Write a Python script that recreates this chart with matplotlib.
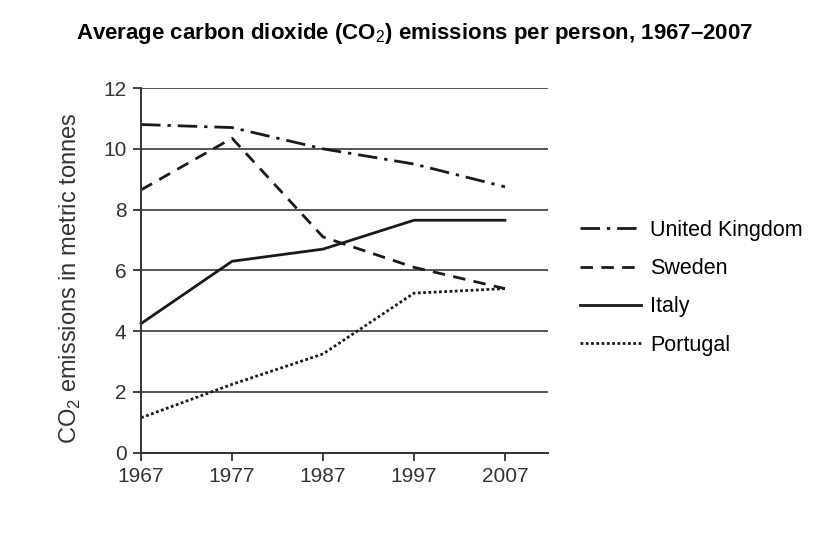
import matplotlib
matplotlib.use("Agg")
import matplotlib.pyplot as plt

plt.rcParams["font.family"] = ["Liberation Sans", "DejaVu Sans"]
plt.rcParams["mathtext.fontset"] = "custom"
plt.rcParams["mathtext.rm"] = "Liberation Sans"
plt.rcParams["mathtext.bf"] = "Liberation Sans:bold"

years = [1967, 1977, 1987, 1997, 2007]
uk = [10.8, 10.7, 10.0, 9.5, 8.75]
sweden = [8.65, 10.35, 7.1, 6.1, 5.4]
italy = [4.25, 6.3, 6.7, 7.65, 7.65]
portugal = [1.15, 2.25, 3.25, 5.25, 5.4]

series = [
    ("United Kingdom", uk, (0, (7, 2.5, 1.2, 2.5))),
    ("Sweden", sweden, (0, (4.5, 3))),
    ("Italy", italy, "-"),
    ("Portugal", portugal, (0, (1, 0.9))),
]

fig = plt.figure(figsize=(8.4, 5.37), dpi=100)
ax = fig.add_axes([0.168, 0.157, 0.484, 0.679])

for name, vals, ls in series:
    ax.plot(years, vals, color="#1a1a1a", linestyle=ls, linewidth=2.0,
            label=name, clip_on=False)

ax.set_xlim(1967, 2011.7)
ax.set_ylim(0, 12)
ax.set_xticks(years)
ax.set_yticks(range(0, 13, 2))
ax.yaxis.grid(True, color="#555555", linewidth=1.4)
ax.set_axisbelow(True)
for s in ["top", "right"]:
    ax.spines[s].set_visible(False)
for s in ["left", "bottom"]:
    ax.spines[s].set_color("#333333")
    ax.spines[s].set_linewidth(1.4)
ax.tick_params(labelsize=15, colors="#333333", length=6, width=1.3, pad=4.5)
ax.set_ylabel("CO$_2$ emissions in metric tonnes", fontsize=17,
              color="#333333")
ax.yaxis.set_label_coords(-0.143, 0.479)

fig.suptitle("Average carbon dioxide (CO$_2$) emissions per person, 1967–2007",
             fontsize=16, fontweight="bold", x=0.494, y=0.96)

fig.legend(loc="center left", bbox_to_anchor=(0.668, 0.464), frameon=False,
           fontsize=15.5, handlelength=2.8, labelspacing=0.8,
           handletextpad=0.45)

fig.savefig("out.png", dpi=100)
